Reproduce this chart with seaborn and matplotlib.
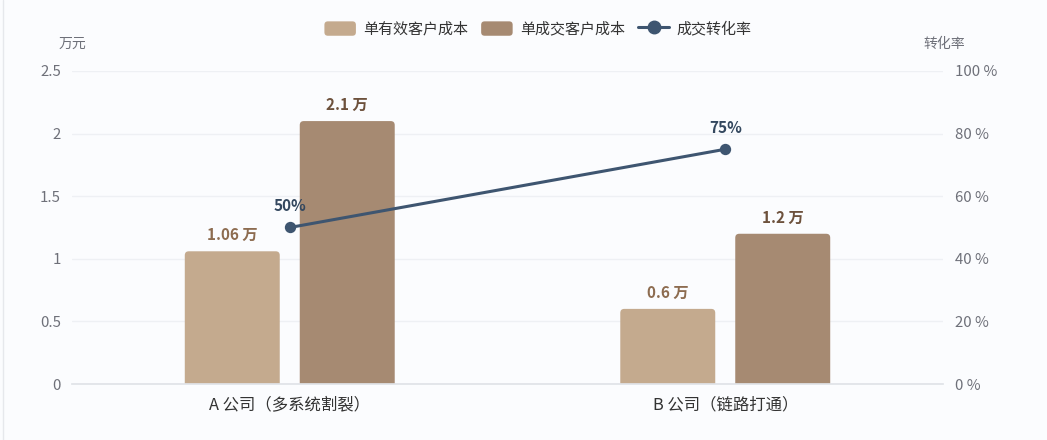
import pandas as pd
import matplotlib.pyplot as plt
import seaborn as sns
from matplotlib.patches import FancyBboxPatch, Patch
from matplotlib.lines import Line2D
from matplotlib.legend_handler import HandlerPatch

companies = ["A 公司（多系统割裂）", "B 公司（链路打通）"]
series = ["单有效客户成本", "单成交客户成本"]
cost_valid = [1.06, 0.6]
cost_deal = [2.1, 1.2]
conv_rate = [50, 75]
cost_labels_valid = ["1.06 万", "0.6 万"]
cost_labels_deal = ["2.1 万", "1.2 万"]
rate_labels = ["50%", "75%"]
y_ticks = [0, 0.5, 1, 1.5, 2, 2.5]
y_tick_labels = ["0", "0.5", "1", "1.5", "2", "2.5"]
rate_ticks = [0, 20, 40, 60, 80, 100]

bar_colors = ["#c4aa8e", "#a68a72"]
line_color = "#3e5570"
bg = "#fbfcfe"
tick_color = "#6e7079"


class RoundHandler(HandlerPatch):
    # legend swatches with rounded corners
    def create_artists(self, legend, orig_handle, xdescent, ydescent, width, height, fontsize, trans):
        p = FancyBboxPatch((-xdescent, -ydescent), width, height,
                           boxstyle="round,pad=0,rounding_size=2.5",
                           fc=orig_handle.get_facecolor(), ec="none", transform=trans)
        return [p]


sns.set_theme(style="white")
plt.rcParams["font.family"] = ["Noto Sans CJK SC", "DejaVu Sans"]

df = pd.DataFrame({
    "company": companies * 2,
    "series": [series[0]] * 2 + [series[1]] * 2,
    "cost": cost_valid + cost_deal,
})

fig = plt.figure(figsize=(10.47, 4.4), dpi=100, facecolor=bg)
ax = fig.add_axes([72 / 1047, 56 / 440, 871 / 1047, 313 / 440])
ax.set_facecolor(bg)

sns.barplot(data=df, x="company", y="cost", hue="series", palette=bar_colors,
            width=0.528, gap=0.174, ax=ax, legend=False, saturation=1)

ax.set_xlim(-0.5, 1.5)
ax.set_ylim(0, 2.5)

# swap bars for ones with rounded tops
x_per_px = 2 / 871
y_per_px = 2.5 / 313
for p in list(ax.patches):
    x, w, h = p.get_x(), p.get_width(), p.get_height()
    fc = p.get_facecolor()
    p.remove()
    rb = FancyBboxPatch((x, -0.1), w, h + 0.1,
                        boxstyle=f"round,pad=0,rounding_size={4 * x_per_px}",
                        mutation_aspect=y_per_px / x_per_px,
                        fc=fc, ec="none", zorder=2, clip_on=True)
    ax.add_patch(rb)

# bar value labels
for i in range(len(companies)):
    ax.text(i - 0.132, cost_valid[i] + 0.065, cost_labels_valid[i], ha="center", va="bottom",
            fontsize=11, fontweight="bold", color="#8d6c50")
    ax.text(i + 0.132, cost_deal[i] + 0.065, cost_labels_deal[i], ha="center", va="bottom",
            fontsize=11, fontweight="bold", color="#6d513c")

ax.set_yticks(y_ticks)
ax.set_yticklabels(y_tick_labels)
ax.grid(axis="y", color="#eef0f4", linewidth=1)
ax.set_axisbelow(True)
for s in ["top", "right", "left"]:
    ax.spines[s].set_visible(False)
ax.spines["bottom"].set_color("#e0e3e8")
ax.tick_params(axis="y", length=0, pad=8, labelsize=10.8, labelcolor=tick_color)
ax.tick_params(axis="x", length=0, pad=9, labelsize=11.8, labelcolor="#333333")
ax.set_xlabel("")
ax.set_ylabel("")

ax2 = ax.twinx()
line_df = pd.DataFrame({"company": companies, "rate": conv_rate})
sns.pointplot(data=line_df, x="company", y="rate", color=line_color, ax=ax2,
              markers="o", markersize=6.5, linewidth=2.2)
ax2.set_ylim(0, 100)
ax2.set_xlim(-0.5, 1.5)
ax2.set_yticks(rate_ticks)
ax2.set_yticklabels([f"{t} %" for t in rate_ticks])
ax2.tick_params(axis="y", length=0, pad=9, labelsize=10.8, labelcolor=tick_color)
for s in ax2.spines.values():
    s.set_visible(False)
ax2.set_ylabel("")
ax2.set_xlabel("")
ax2.grid(False)
for i in range(len(companies)):
    ax2.text(i, conv_rate[i] + 4.2, rate_labels[i], ha="center", va="bottom",
             fontsize=11, fontweight="bold", color="#34485f")

# axis names
fig.text(72 / 1047, 1 - 44 / 440, "万元", ha="center", va="center", fontsize=10, color=tick_color)
fig.text(944 / 1047, 1 - 44 / 440, "转化率", ha="center", va="center", fontsize=10, color=tick_color)

handles = [
    Patch(facecolor=bar_colors[0], edgecolor="none", label=series[0]),
    Patch(facecolor=bar_colors[1], edgecolor="none", label=series[1]),
    Line2D([0], [0], color=line_color, linewidth=2.2, marker="o", markersize=9, label="成交转化率"),
]
fig.legend(handles=handles, loc="center", bbox_to_anchor=(0.514, 1 - 29 / 440), ncol=3,
           frameon=False, fontsize=10.8, handlelength=2.1, handleheight=1.1,
           columnspacing=0.85, handletextpad=0.5, labelcolor="#333333",
           handler_map={Patch: RoundHandler()})

fig.add_artist(Line2D([3 / 1047, 3 / 1047], [0, 1], color="#e6e8ec", linewidth=1))

fig.savefig("out.png", dpi=100, facecolor=bg)
